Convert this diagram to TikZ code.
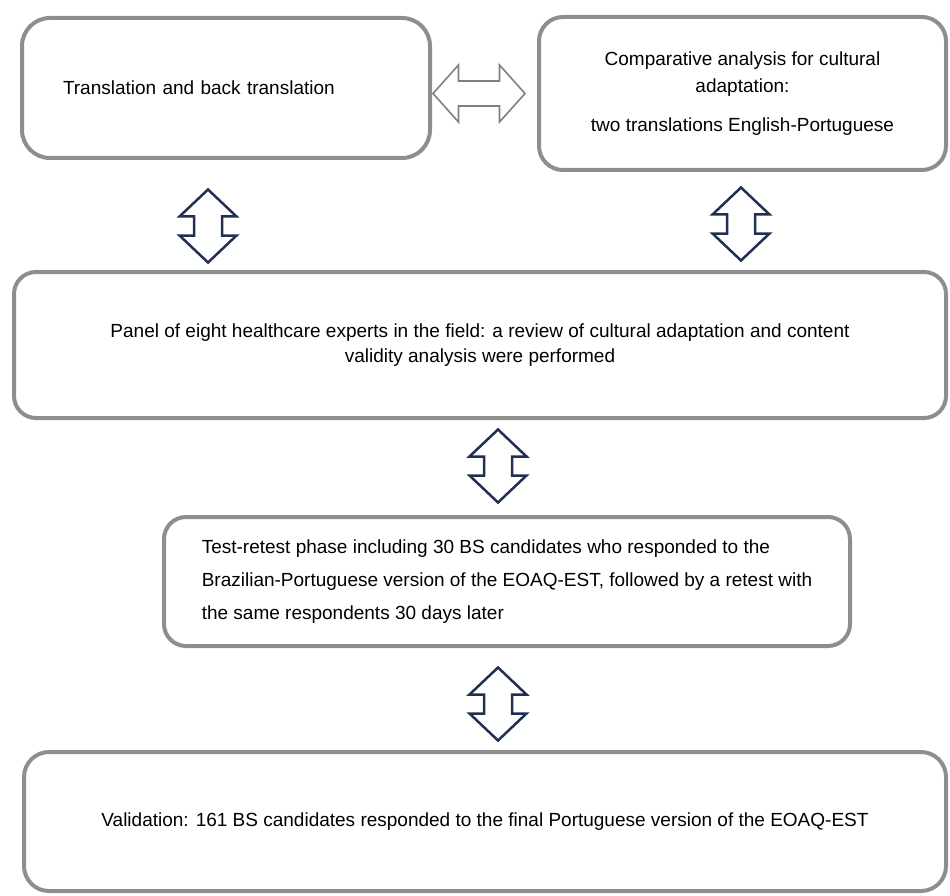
\documentclass[tikz,border=0pt]{standalone}
\usepackage{fontspec}
\setmainfont{Liberation Sans}
\usetikzlibrary{shapes,positioning}
\definecolor{boxgray}{RGB}{142,142,142}
\definecolor{arrownavy}{RGB}{31,48,80}
\definecolor{arrowgray}{RGB}{128,128,128}

\begin{document}
\begin{tikzpicture}[x=1pt,y=-1pt,
  stage/.style={draw=boxgray,line width=4pt,rectangle,rounded corners=#1,inner sep=0pt,
    font=\fontsize{19}{25}\selectfont},
  stage/.default=24pt,
  vlink/.style={draw=arrownavy,line width=2.5pt,line join=miter},
  hlink/.style={draw=arrowgray,line width=1.6pt,line join=miter}]
\useasboundingbox (0,0) rectangle (950,896);

\node[stage=28pt,minimum width=408pt,minimum height=140pt,text width=326pt,inner xsep=41pt,align=left]
  (transl) at (226,88) {Translation and back translation};
\node[stage,minimum width=407pt,minimum height=153pt,align=center,font=\fontsize{19}{27}\selectfont]
  (compar) at (742.5,93.5) {Comparative analysis for cultural\\adaptation:\\[12pt]two translations English-Portuguese};
\node[stage=22pt,minimum width=932pt,minimum height=146pt,align=center]
  (panel) at (480,345) {Panel of eight healthcare experts in the field: a review of cultural adaptation and content\\validity analysis were performed};
\node[stage=22pt,minimum width=686pt,minimum height=129pt,align=left,font=\fontsize{19}{33}\selectfont]
  (retest) at (507,581.5) {Test-retest phase including 30 BS candidates who responded to the\\Brazilian-Portuguese version of the EOAQ-EST, followed by a retest with\\the same respondents 30 days later};
\node[stage=25pt,minimum width=922pt,minimum height=139pt]
  (valid) at (485,821.5) {Validation: 161 BS candidates responded to the final Portuguese version of the EOAQ-EST};

\coordinate (a1) at (479,93.5);
\coordinate (a2) at (208,226);
\coordinate (a3) at (741,224);
\coordinate (a4) at (498,466);
\coordinate (a5) at (498,704);

\draw[hlink,shift={(a1)}] (-46,0) -- (-20.5,-28.5) -- (-20.5,-12.5) -- (20.5,-12.5) -- (20.5,-28.5)
  -- (46,0) -- (20.5,28.5) -- (20.5,12.5) -- (-20.5,12.5) -- (-20.5,28.5) -- cycle;
\foreach \a in {a2,a3,a4,a5}
  \draw[vlink,shift={(\a)}] (0,-36.5) -- (28.5,-9.5) -- (14,-9.5) -- (14,9.5) -- (28.5,9.5)
    -- (0,36.5) -- (-28.5,9.5) -- (-14,9.5) -- (-14,-9.5) -- (-28.5,-9.5) -- cycle;
\end{tikzpicture}
\end{document}
